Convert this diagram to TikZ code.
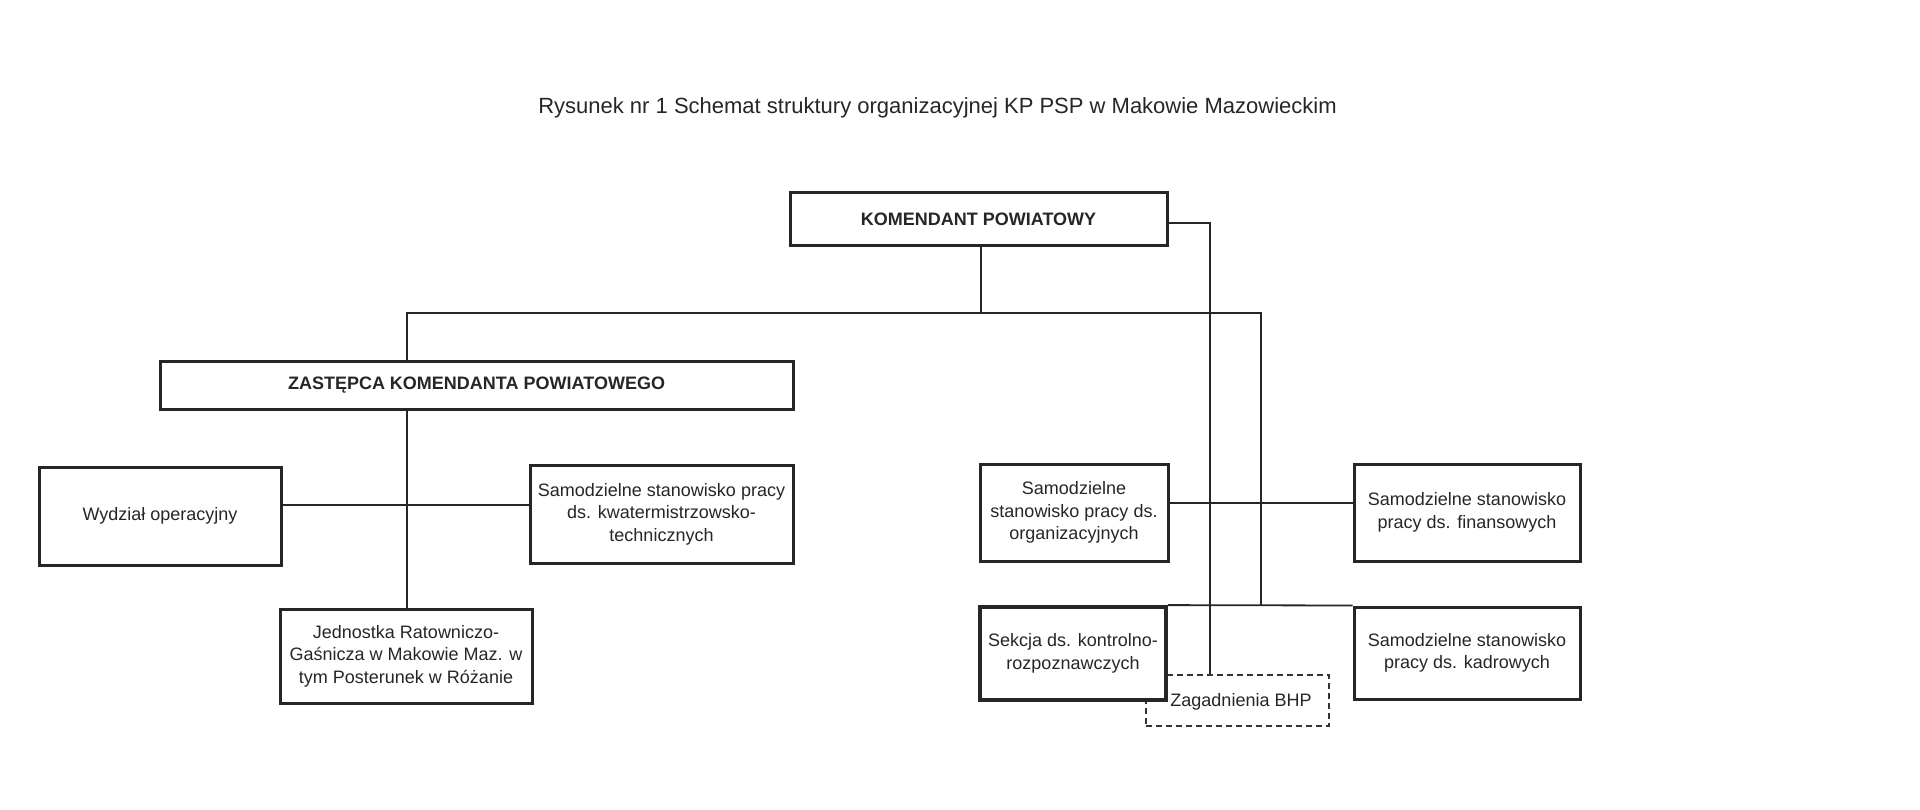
\documentclass[tikz,border=0pt]{standalone}
\usepackage{fontspec}
\setmainfont{Liberation Sans}
\usetikzlibrary{calc}
\tikzset{
  box/.style={draw=black!85, line width=3pt, fill=white, align=center, inner sep=2pt,
    font=\fontsize{18}{22.5}\selectfont, text=black!85},
  headbox/.style={box, font=\fontsize{18}{22}\selectfont\bfseries},
  dashbox/.style={draw=black!80, line width=1.5pt, dash pattern=on 6pt off 4pt, fill=white,
    align=center, font=\fontsize{18}{22}\selectfont, text=black!85},
  conn/.style={draw=black!85, line width=1.8pt},
  titletext/.style={font=\fontsize{22}{26}\selectfont, text=black!85}
}
\begin{document}
\begin{tikzpicture}[x=1pt,y=-1pt]
\useasboundingbox (0,0) rectangle (1920,810);
% title
\node[titletext] (title) at (937.5,108) {Rysunek nr 1 Schemat struktury organizacyjnej KP PSP w Makowie Mazowieckim};
% boxes
\node[headbox, minimum width=377, minimum height=53] (kp) at (978.5,219.5) {KOMENDANT POWIATOWY};
\node[headbox, minimum width=633, minimum height=48] (zast) at (476.5,385.5) {ZASTĘPCA KOMENDANTA POWIATOWEGO};
\node[box, minimum width=242, minimum height=98] (wyd) at (160,516) {Wydział operacyjny};
\node[box, minimum width=263, minimum height=98] (kwat) at (661.5,514) {Samodzielne stanowisko pracy\\ds. kwatermistrzowsko-\\technicznych};
\node[box, minimum width=252, minimum height=94] (jed) at (406,656) {Jednostka Ratowniczo-\\Gaśnicza w Makowie Maz. w\\tym Posterunek w Różanie};
\node[box, minimum width=188, minimum height=97] (org) at (1074,512.5) {Samodzielne\\stanowisko pracy ds.\\organizacyjnych};
\node[box, minimum width=226, minimum height=97] (fin) at (1467,512.5) {Samodzielne stanowisko\\pracy ds. finansowych};
\node[dashbox, minimum width=183, minimum height=51] (bhp) at (1237.5,700.5) {};
\node[box, line width=3.8pt, minimum width=186, minimum height=93] (sek) at (1073,653.5) {Sekcja ds. kontrolno-\\rozpoznawczych};
\node[box, minimum width=226, minimum height=92] (kadr) at (1467,653) {Samodzielne stanowisko\\pracy ds. kadrowych};
\node[font=\fontsize{18}{22}\selectfont, text=black!85] (bhptext) at (1241,702) {Zagadnienia BHP};
% connectors
\coordinate (busL) at (407,313);
\coordinate (busR) at (1261,313);
\draw[conn] ([xshift=2.5pt]kp.south) -- ([xshift=2.5pt]kp.south |- busL);
\draw[conn] (zast.north -| busL) -- (busL) -- (busR) -- (busR |- sek.north);
\draw[conn] (sek.north east) -- (kadr.north west);
\draw[conn] (zast.south -| busL) -- (jed.north -| busL);
\draw[conn] ([yshift=11pt]wyd.east) -- ([yshift=11pt]wyd.east -| kwat.west);
\draw[conn] ([yshift=9.5pt]org.east) -- ([yshift=9.5pt]org.east -| fin.west);
\draw[conn] ([yshift=-3.5pt]kp.east) -| ([xshift=-27.5pt]bhp.north);
\end{tikzpicture}
\end{document}
